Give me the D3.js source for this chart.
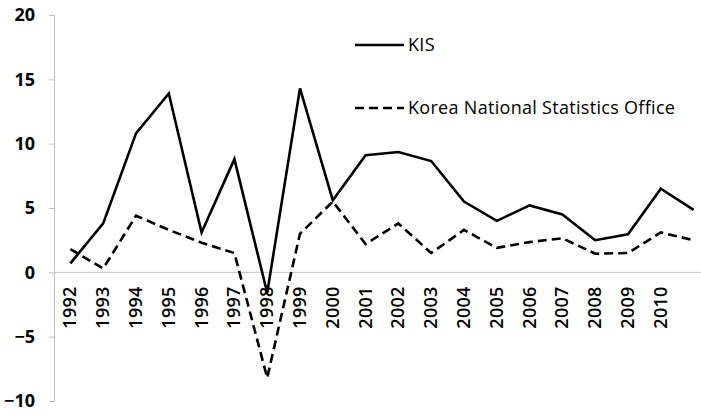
<!DOCTYPE html>
<html>
<head>
<meta charset="utf-8">
<script src="https://cdn.jsdelivr.net/npm/d3@7"></script>
<style>
  body { margin: 0; background: #fff; }
  svg { display: block; }
</style>
</head>
<body>
<svg id="chart"></svg>
<script>
const years = ['1992','1993','1994','1995','1996','1997','1998','1999','2000','2001',
  '2002','2003','2004','2005','2006','2007','2008','2009','2010','2011']
// the last year has no label in the original
const yearLabels = years.slice(0, 19)
const kis = [0.7, 3.8, 10.8, 13.9, 3.1, 8.8, -1.6, 14.3, 5.6, 9.1,
  9.35, 8.65, 5.5, 4.0, 5.2, 4.5, 2.5, 2.95, 6.5, 4.85]
const knso = [1.8, 0.3, 4.4, 3.3, 2.3, 1.5, -8.2, 3.0, 5.5, 2.2,
  3.8, 1.5, 3.3, 1.9, 2.35, 2.65, 1.45, 1.5, 3.1, 2.5]
const yTicks = [-10, -5, 0, 5, 10, 15, 20]

const width = 701
const height = 414

const svg = d3.select('#chart')
  .attr('width', width)
  .attr('height', height)

const x = d3.scalePoint()
  .domain(years)
  .range([54, 710])
  .padding(0.5)

const y = d3.scaleLinear()
  .domain([-10, 20])
  .range([401, 15])

const font = '"Open Sans", "Noto Sans", sans-serif'

// y axis
const yAxis = svg.append('g')
  .attr('transform', 'translate(54,0)')
  .call(d3.axisLeft(y).tickValues(yTicks).tickSize(5).tickPadding(14))
yAxis.select('.domain').attr('stroke', '#bfbfbf')
yAxis.selectAll('.tick line').attr('stroke', '#bfbfbf')
yAxis.selectAll('.tick text')
  .attr('font-family', font)
  .attr('font-size', 18)
  .attr('font-weight', 'bold')
  .attr('fill', '#000')

// x axis along zero
svg.append('line')
  .attr('x1', 54).attr('x2', width)
  .attr('y1', y(0)).attr('y2', y(0))
  .attr('stroke', '#bfbfbf')
  .attr('stroke-width', 1)

svg.append('g')
  .selectAll('text')
  .data(yearLabels)
  .join('text')
    .attr('transform', d => `translate(${x(d) + 6},${y(0) + 14}) rotate(-90)`)
    .attr('text-anchor', 'end')
    .attr('font-family', font)
    .attr('font-size', 18)
    .attr('font-weight', 600)
    .attr('letter-spacing', 0.3)
    .text(d => d)

const line = d3.line()
  .x((d, i) => x(years[i]))
  .y(d => y(d))

svg.append('path')
  .datum(knso)
  .attr('d', line)
  .attr('fill', 'none')
  .attr('stroke', '#000')
  .attr('stroke-width', 2.6)
  .attr('stroke-dasharray', '9,5')

svg.append('path')
  .datum(kis)
  .attr('d', line)
  .attr('fill', 'none')
  .attr('stroke', '#000')
  .attr('stroke-width', 2.6)

// legend
const legend = [
  { name: 'KIS', dash: null, y: 45 },
  { name: 'Korea National Statistics Office', dash: '9,5', y: 108 }
]
const lg = svg.append('g')
lg.selectAll('line')
  .data(legend)
  .join('line')
    .attr('x1', 355).attr('x2', 404)
    .attr('y1', d => d.y).attr('y2', d => d.y)
    .attr('stroke', '#000')
    .attr('stroke-width', 2.6)
    .attr('stroke-dasharray', d => d.dash)
lg.selectAll('text')
  .data(legend)
  .join('text')
    .attr('x', 408)
    .attr('y', d => d.y + 6)
    .attr('font-family', font)
    .attr('font-size', 18)
    .attr('letter-spacing', 0.3)
    .text(d => d.name)
</script>
</body>
</html>
